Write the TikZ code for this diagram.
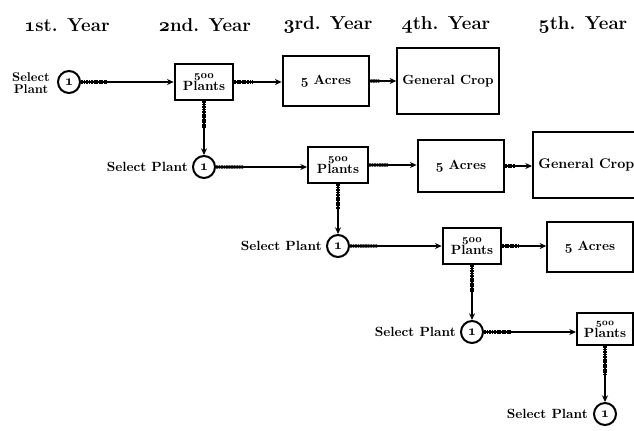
\documentclass[tikz,border=0pt]{standalone}
\usetikzlibrary{arrows.meta,calc}
\newcommand\osn[1]{{\fontencoding{OML}\fontfamily{cmm}\fontseries{b}\fontshape{it}\selectfont #1}}
\begin{document}
\begin{tikzpicture}[x=0.75pt,y=-0.75pt,
  txt/.style={font=\bfseries\fontsize{10}{11}\selectfont, inner sep=0pt},
  hdr/.style={font=\bfseries\fontsize{14}{16}\selectfont, inner sep=0pt},
  circ/.style={circle, draw, line width=1.5pt, minimum size=16.5pt, inner sep=0pt, font=\bfseries\fontsize{11}{12}\selectfont},
  pbox/.style={draw, line width=1.5pt, align=center, inner sep=0pt, minimum width=44pt, minimum height=27pt, font=\bfseries\fontsize{10}{9}\selectfont},
  abox/.style={draw, line width=1.6pt, inner sep=0pt, minimum width=65pt, minimum height=38pt, font=\bfseries\fontsize{10}{11}\selectfont},
  gbox/.style={draw, line width=1.6pt, inner sep=0pt, minimum width=76pt, minimum height=50pt, font=\bfseries\fontsize{10}{11}\selectfont},
  arr/.style={line width=0.9pt, -{Stealth[length=5pt,width=4.5pt]}},
  hatch/.style={line width=2.6pt, dash pattern=on 1.4pt off 0.5pt}
]
\useasboundingbox (0,0) rectangle (634,430);
% headers
\node[hdr] (h1) at (67,25) {\osn{1}st. Year};
\node[hdr] (h2) at (205,25) {\osn{2}nd. Year};
\node[hdr] (h3) at (328,25) {\osn{3}rd. Year};
\node[hdr] (h4) at (446,25) {\osn{4}th. Year};
\node[hdr] (h5) at (583,25) {\osn{5}th. Year};
% row 1
\node[txt, align=center, font=\bfseries\fontsize{9.5}{9}\selectfont] (s1) at (31,83) {Select\\Plant};
\node[circ] (c1) at (69,82) {\osn{1}};
\node[pbox] (b1) at (204,82) {{\fontsize{8}{8}\selectfont\osn{500}}\\Plants};
\node[abox] (a1) at (326,81) {\osn{5} Acres};
\node[gbox] (g1) at (448,81) {General Crop};
% row 2
\node[circ] (c2) at (204,167) {\osn{1}};
\node[txt, anchor=east] (s2) at (188,167) {Select Plant};
\node[pbox, minimum width=45pt] (b2) at (338,165) {{\fontsize{8}{8}\selectfont\osn{500}}\\Plants};
\node[abox, minimum height=39pt] (a2) at (461,166) {\osn{5} Acres};
\node[gbox, anchor=west, minimum width=80pt, minimum height=50pt, font=\bfseries\fontsize{10.5}{11}\selectfont] (g2) at (532,165) {General Crop};
% row 3
\node[circ] (c3) at (338,246) {\osn{1}};
\node[txt, anchor=east] (s3) at (322,246) {Select Plant};
\node[pbox] (b3) at (472,246) {{\fontsize{8}{8}\selectfont\osn{500}}\\Plants};
\node[abox, minimum width=64pt] (a3) at (590,247) {\osn{5} Acres};
% row 4
\node[circ] (c4) at (472,332) {\osn{1}};
\node[txt, anchor=east] (s4) at (456,332) {Select Plant};
\node[pbox, minimum width=42pt, minimum height=24pt] (b4) at (605,329) {{\fontsize{7}{7}\selectfont\osn{500}}\\Plants};
% row 5
\node[circ] (c5) at (605,414) {\osn{1}};
\node[txt, anchor=east] (s5) at (588,414) {Select Plant};
% horizontal connectors
\foreach \a/\b/\f in {c1/b1/0.28, b1/a1/0.4, a1/g1/0.35, c2/b2/0.3, b2/a2/0.4, a2/g2/0.35, c3/b3/0.3, b3/a3/0.35, c4/b4/0.3} {
  \draw[arr] (\a.east) -- (\a.east -| \b.west);
  \draw[hatch] (\a.east) -- ($(\a.east)!\f!(\a.east -| \b.west)$);
}
% vertical connectors
\foreach \a/\b in {b1/c2, b2/c3, b3/c4, b4/c5} {
  \draw[arr] (\a.south) -- (\a.south |- \b.north);
  \draw[hatch] (\a.south) -- ($(\a.south)!0.5!(\a.south |- \b.north)$);
}
\end{tikzpicture}
\end{document}
